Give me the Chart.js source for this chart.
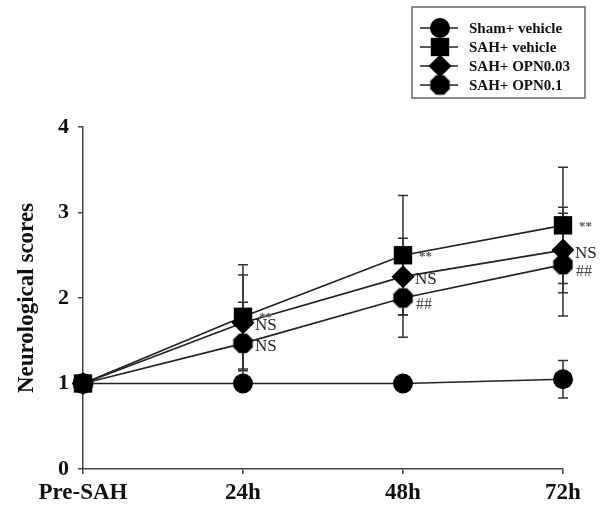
<!DOCTYPE html>
<html>
<head>
<meta charset="utf-8">
<title>Neurological scores</title>
<script src="https://cdn.jsdelivr.net/npm/chart.js@4.4.0/dist/chart.umd.min.js"></script>
<style>
    html, body { margin: 0; padding: 0; background: #fff; }
</style>
</head>
<body>
<canvas id="score-chart" width="602" height="505"></canvas>
<script>
// time points on the x axis
var categories = ['Pre-SAH', '24h', '48h', '72h'];
var yTicks = [0, 1, 2, 3, 4];

// group means
var shamVehicle = [1, 1, 1, 1.05];
var sahVehicle = [1, 1.78, 2.5, 2.85];
var sahOpn003 = [1, 1.71, 2.25, 2.56];
var sahOpn01 = [1, 1.47, 2.0, 2.39];

// error bar half lengths
var shamVehicleErr = [0, 0, 0, 0.22];
var sahVehicleErr = [0, 0.61, 0.7, 0.68];
var sahOpn003Err = [0, 0.56, 0.45, 0.5];
var sahOpn01Err = [0, 0.48, 0.46, 0.6];

// significance marks next to points
var sahVehicleMarks = ['', '**', '**', '**'];
var sahOpn003Marks = ['', 'NS', 'NS', 'NS'];
var sahOpn01Marks = ['', 'NS', '##', '##'];

(function(){
    var SERIF = "'Liberation Serif', 'Times New Roman', serif";

    /**
     * Octagon marker, Chart.js has no hexagon/octagon point style.
     */
    function makeOctagon(r){
        var c = document.createElement('canvas');
        c.width = r * 2 + 2;
        c.height = r * 2 + 2;
        var g = c.getContext('2d');
        var cx = c.width / 2, cy = c.height / 2;
        g.beginPath();
        for (var i = 0; i < 8; i++) {
            var a = Math.PI / 8 + i * Math.PI / 4;
            var px = cx + r * Math.cos(a), py = cy + r * Math.sin(a);
            if (i === 0) g.moveTo(px, py); else g.lineTo(px, py);
        }
        g.closePath();
        g.fillStyle = '#000';
        g.fill();
        return c;
    }
    var octagon = makeOctagon(10.5);

    /**
     * Vertical error bars with caps, drawn under the markers.
     */
    var errorBars = {
        id: 'errorBars',
        beforeDatasetsDraw: function(chart){
            var ctx = chart.ctx, y = chart.scales.y;
            ctx.save();
            ctx.strokeStyle = '#333';
            ctx.lineWidth = 1.5;
            chart.data.datasets.forEach(function(ds, i){
                var meta = chart.getDatasetMeta(i);
                meta.data.forEach(function(pt, j){
                    var e = ds.errors[j];
                    if (!e) return;
                    var top = y.getPixelForValue(ds.data[j] + e);
                    var bot = y.getPixelForValue(ds.data[j] - e);
                    ctx.beginPath();
                    ctx.moveTo(pt.x, top); ctx.lineTo(pt.x, bot);
                    ctx.moveTo(pt.x - 5, top); ctx.lineTo(pt.x + 5, top);
                    ctx.moveTo(pt.x - 5, bot); ctx.lineTo(pt.x + 5, bot);
                    ctx.stroke();
                });
            });
            ctx.restore();
        }
    };

    var markStyle = {
        '**': { font: 'bold 13px ' + SERIF, color: '#555', dx: 16, dy: 1 },
        'NS': { font: '17px ' + SERIF, color: '#222', dx: 12, dy: 3 },
        '##': { font: '16px ' + SERIF, color: '#444', dx: 13, dy: 7 }
    };

    /**
     * Significance labels to the right of points.
     */
    var marks = {
        id: 'marks',
        afterDatasetsDraw: function(chart){
            var ctx = chart.ctx;
            ctx.save();
            ctx.textBaseline = 'middle';
            ctx.textAlign = 'left';
            chart.data.datasets.forEach(function(ds, i){
                if (!ds.marks) return;
                var meta = chart.getDatasetMeta(i);
                meta.data.forEach(function(pt, j){
                    var m = ds.marks[j];
                    if (!m) return;
                    var st = markStyle[m];
                    ctx.font = st.font;
                    ctx.fillStyle = st.color;
                    ctx.fillText(m, pt.x + st.dx, pt.y + st.dy);
                });
            });
            ctx.restore();
        }
    };

    /**
     * Boxed legend with line + marker samples.
     */
    var boxLegend = {
        id: 'boxLegend',
        afterDraw: function(chart){
            var ctx = chart.ctx;
            ctx.save();
            ctx.strokeStyle = '#666';
            ctx.lineWidth = 1.5;
            ctx.strokeRect(412, 7, 173, 91);
            ctx.font = 'bold 15px ' + SERIF;
            ctx.textBaseline = 'middle';
            ctx.textAlign = 'left';
            chart.data.datasets.forEach(function(ds, i){
                var yy = 28 + i * 19;
                ctx.strokeStyle = '#222';
                ctx.lineWidth = 1.5;
                ctx.beginPath();
                ctx.moveTo(420, yy); ctx.lineTo(458, yy);
                ctx.stroke();
                ctx.fillStyle = '#000';
                Chart.helpers.drawPoint(ctx, {
                    pointStyle: ds.pointStyle,
                    radius: ds.pointRadius,
                    rotation: 0,
                    borderWidth: 0
                }, 440, yy);
                ctx.fillStyle = '#111';
                ctx.fillText(ds.label, 469, yy + 1);
            });
            ctx.restore();
        }
    };

    function series(label, data, errors, style, radius, marksArr){
        return {
            label: label,
            data: data,
            errors: errors,
            marks: marksArr,
            borderColor: '#222',
            borderWidth: 1.7,
            backgroundColor: '#000',
            pointBackgroundColor: '#000',
            pointBorderColor: '#000',
            pointBorderWidth: 0,
            pointStyle: style,
            pointRadius: radius,
            pointHoverRadius: radius,
            tension: 0,
            fill: false
        };
    }

    var ctx = document.getElementById('score-chart').getContext('2d');
    new Chart(ctx, {
        type: 'line',
        data: {
            labels: categories,
            datasets: [
                series('Sham+ vehicle', shamVehicle, shamVehicleErr, 'circle', 10, null),
                series('SAH+ vehicle', sahVehicle, sahVehicleErr, 'rect', 13, sahVehicleMarks),
                series('SAH+ OPN0.03', sahOpn003, sahOpn003Err, 'rectRot', 11.5, sahOpn003Marks),
                series('SAH+ OPN0.1', sahOpn01, sahOpn01Err, octagon, 10.5, sahOpn01Marks)
            ]
        },
        options: {
            responsive: false,
            animation: false,
            layout: { padding: { top: 127, right: 39, left: 0, bottom: 0 } },
            plugins: {
                legend: { display: false },
                tooltip: { enabled: false }
            },
            scales: {
                x: {
                    type: 'category',
                    offset: false,
                    afterFit: function(s){ s.height = 36; },
                    border: { color: '#444', width: 1.5 },
                    grid: { drawOnChartArea: false, drawTicks: true, tickLength: 5, color: '#444', lineWidth: 1.5 },
                    ticks: {
                        color: '#111',
                        padding: 5,
                        maxRotation: 0,
                        font: { family: SERIF, size: 23, weight: 'bold' }
                    }
                },
                y: {
                    min: 0,
                    max: 4,
                    afterFit: function(s){ s.width = 83; },
                    afterBuildTicks: function(s){
                        s.ticks = yTicks.map(function(v){ return { value: v }; });
                    },
                    border: { color: '#444', width: 1.5 },
                    grid: { drawOnChartArea: false, drawTicks: true, tickLength: 5, color: '#444', lineWidth: 1.5 },
                    ticks: {
                        color: '#111',
                        padding: 9,
                        font: { family: SERIF, size: 22, weight: 'bold' }
                    },
                    title: {
                        display: true,
                        text: 'Neurological scores',
                        color: '#111',
                        padding: { top: 13, bottom: 0 },
                        font: { family: SERIF, size: 23, weight: 'bold' }
                    }
                }
            }
        },
        plugins: [errorBars, marks, boxLegend]
    });
})();
</script>
</body>
</html>
